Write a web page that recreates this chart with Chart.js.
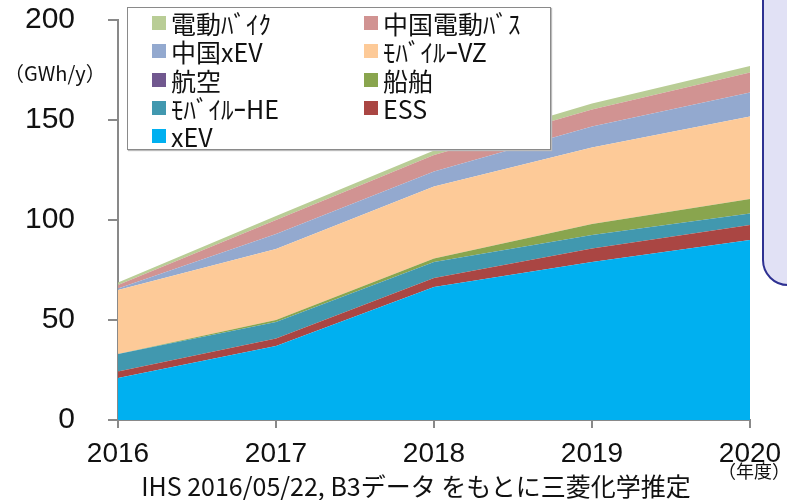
<!DOCTYPE html>
<html>
<head>
<meta charset="utf-8">
<script src="https://cdn.jsdelivr.net/npm/chart.js@4"></script>
<style>
  body { margin: 0; background: #fff; }
  #wrap { position: relative; width: 787px; height: 500px; overflow: hidden; font-family: "Noto Sans CJK JP", sans-serif; }
  #myChart { position: absolute; left: 0; top: 0; }
  #unit { position: absolute; left: 4px; top: 58px; font-size: 20px; color: #111; }
  #year { position: absolute; left: 718px; top: 457px; font-size: 18px; color: #111; }
  #source { position: absolute; left: 0; width: 832px; text-align: center; top: 470px; font-size: 25px; color: #111; line-height: 30px; }
  #note { position: absolute; left: 762px; top: -20px; width: 60px; height: 306px; background: #E1E1F5; border: 2px solid #2E3192; border-bottom-left-radius: 26px; box-sizing: border-box; }
  #legend { position: absolute; left: 127px; top: 7px; width: 424px; height: 143px; box-sizing: border-box; background: #fff; border: 1px solid #8a8a8a; box-shadow: 1px 1px 1px #bbb; padding: 1px 0 0 24px; display: grid; grid-template-columns: 212px 212px; grid-auto-rows: 28.3px; }
  .item { display: flex; align-items: center; font-size: 25px; color: #111; white-space: nowrap; }
  .sw { width: 14px; height: 14px; margin-right: 5px; flex: none; }
</style>
</head>
<body>
<div id="wrap">
  <canvas id="myChart" width="787" height="500"></canvas>
  <div id="unit">（GWh/y）</div>
  <div id="legend"></div>
  <div id="note"></div>
  <div id="year">（年度）</div>
  <div id="source">IHS 2016/05/22, B3データ をもとに三菱化学推定</div>
</div>
<script>
// values, GWh/y, bottom layer first
const years = ['2016', '2017', '2018', '2019', '2020'];
const xev        = [21, 37, 66.5, 79, 90];
const ess        = [3.2, 3.7, 4.5, 6.8, 7.5];
const mobileHE   = [8.8, 8.3, 8, 6.7, 5.8];
const ship       = [0, 1, 1.8, 5.5, 7.2];
const aviation   = [0, 0, 0, 0, 0];
const mobileVZ   = [32, 35.5, 36, 38.3, 41.2];
const chinaXev   = [0.8, 7.5, 7.5, 10.4, 12];
const chinaBus   = [1.7, 7, 8.2, 8.6, 10];
const eBike      = [1.2, 2, 2.2, 3, 3.3];

const series = [
    { label: 'xEV',        data: xev,      color: '#00B0F0' },
    { label: 'ESS',        data: ess,      color: '#AA4643' },
    { label: 'ﾓﾊﾞｲﾙｰHE',   data: mobileHE, color: '#4198AF' },
    { label: '船舶',       data: ship,     color: '#89A54E' },
    { label: '航空',       data: aviation, color: '#71588F' },
    { label: 'ﾓﾊﾞｲﾙｰVZ',   data: mobileVZ, color: '#FDCA98' },
    { label: '中国xEV',    data: chinaXev, color: '#93A9CF' },
    { label: '中国電動ﾊﾞｽ', data: chinaBus, color: '#D19392' },
    { label: '電動ﾊﾞｲｸ',   data: eBike,    color: '#B9CD96' }
];

const axisGray = '#898989';

const ctx = document.getElementById('myChart').getContext('2d');
const myChart = new Chart(ctx, {
    type: 'line',
    data: {
        labels: years,
        datasets: series.map((s, i) => ({
            label: s.label,
            data: s.data,
            backgroundColor: s.color,
            borderColor: s.color,
            borderWidth: 0,
            pointRadius: 0,
            tension: 0,
            fill: i === 0 ? 'origin' : '-1'
        }))
    },
    options: {
        responsive: false,
        animation: false,
        devicePixelRatio: 1,
        layout: { padding: { top: 20, right: 37, bottom: 0, left: 0 } },
        plugins: { legend: { display: false }, tooltip: { enabled: false } },
        scales: {
            x: {
                offset: false,
                grid: { display: true, drawOnChartArea: false, drawTicks: true, tickLength: 8, color: axisGray, lineWidth: 2 },
                border: { color: axisGray, width: 2 },
                ticks: { color: '#111', padding: 9, maxRotation: 0, font: { family: '"Liberation Sans", Arial, sans-serif', size: 28 } },
                afterFit: (scale) => { scale.height = 80; scale.paddingRight = 0; }
            },
            y: {
                stacked: true,
                min: 0,
                max: 200,
                grid: { display: true, drawOnChartArea: false, drawTicks: true, tickLength: 10, color: axisGray, lineWidth: 2 },
                border: { color: axisGray, width: 2 },
                ticks: { stepSize: 50, color: '#111', padding: 33, font: { family: '"Liberation Sans", Arial, sans-serif', size: 30 } },
                afterFit: (scale) => { scale.width = 118; scale.paddingTop = 0; scale.paddingBottom = 0; }
            }
        }
    }
});

// legend box, top layer first, two columns
const legendEl = document.getElementById('legend');
legendEl.innerHTML = series.slice().reverse().map(s =>
    `<div class="item"><span class="sw" style="background:${s.color}"></span>${s.label}</div>`
).join('');
</script>
</body>
</html>
